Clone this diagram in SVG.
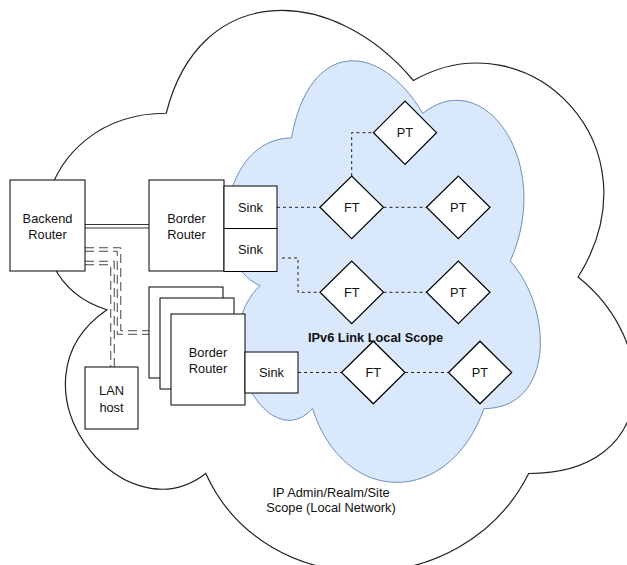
<svg xmlns="http://www.w3.org/2000/svg" width="627" height="565" viewBox="0 0 627 565">
<style>
.box{fill:#fff;stroke:#000;stroke-width:1}
.dia{fill:#fff;stroke:#000;stroke-width:1.2}
.t{font-family:"Liberation Sans",Arial,Helvetica,sans-serif;font-size:12.8px;fill:#111;text-anchor:middle}
.tb{font-weight:bold}
.dash{fill:none;stroke:#222;stroke-width:1;stroke-dasharray:3 3}
.link{fill:none;stroke:#333;stroke-width:1}
.dlink{fill:none;stroke:#444;stroke-width:1;stroke-dasharray:9 5}
</style>
<rect width="627" height="565" fill="#fff"/>
<g id="outer-cloud">
<path d="M166.25,113.25 C34.45,113.25 1.5,277 106.94,309.75 C1.5,381.8 120.12,539 205.79,473.5 C265.1,604.5 462.8,604.5 528.7,473.5 C660.5,473.5 660.5,342.5 578.1,277 C660.5,146 528.7,15 413.4,80.5 C331,-17.75 199.2,-17.75 166.25,113.25 Z" fill="#fff" stroke="#222" stroke-width="1.2"/>
<text class="t" x="331" y="496.5">IP Admin/Realm/Site</text>
<text class="t" x="331" y="511.5">Scope (Local Network)</text>
</g>
<g id="inner-cloud">
<path d="M291.5,138 C221.5,138 204,261 260,285.6 C204,339.7 267,457.8 312.5,408.6 C344,507 449,507 484,408.6 C554,408.6 554,310.2 510.25,261 C554,162.6 484,64.2 422.75,113.4 C379,39.6 309,39.6 291.5,138 Z" fill="#dae8fc" stroke="#6c8ebf" stroke-width="1"/>
</g>
<g id="connectors">
<line class="link" x1="85" y1="224.5" x2="149" y2="224.5"/>
<line class="link" x1="85" y1="228" x2="149" y2="228"/>
<polyline class="dlink" points="85,247.75 120.75,247.75 120.75,330.75 149,330.75"/>
<polyline class="dlink" points="85,251.25 117.25,251.25 117.25,334.25 149,334.25"/>
<polyline class="dlink" points="85,261.25 114.25,261.25 114.25,367"/>
<polyline class="dlink" points="85,264.75 110.75,264.75 110.75,367"/>
<line class="dash" x1="277" y1="207.3" x2="320" y2="207.3"/>
<line class="dash" x1="383.5" y1="207.3" x2="426.5" y2="207.3"/>
<polyline class="dash" points="351.7,176 351.7,132.7 373.5,132.7"/>
<polyline class="dash" points="282,258 298,258 298,292.3 320,292.3"/>
<line class="dash" x1="383.5" y1="292.3" x2="426.5" y2="292.3"/>
<line class="dash" x1="298" y1="372.5" x2="341.5" y2="372.5"/>
<line class="dash" x1="405" y1="372.5" x2="448.5" y2="372.5"/>
</g>
<g id="backend-router">
<rect class="box" x="10" y="180" width="75" height="91"/>
<text class="t" x="47.5" y="222.5">Backend</text>
<text class="t" x="47.5" y="238.5">Router</text>
</g>
<g id="border-router-1">
<rect class="box" x="149" y="180" width="75" height="91"/>
<text class="t" x="186.5" y="222.5">Border</text>
<text class="t" x="186.5" y="238.5">Router</text>
</g>
<g id="sink-1">
<rect class="box" x="224" y="186" width="53" height="42.5"/>
<text class="t" x="250.5" y="211.5">Sink</text>
</g>
<g id="sink-2">
<rect class="box" x="224" y="228.5" width="53" height="43"/>
<text class="t" x="250.5" y="254">Sink</text>
</g>
<g id="border-router-stack">
<rect class="box" x="149" y="287" width="74" height="91"/>
<rect class="box" x="160" y="298" width="74" height="91"/>
<rect class="box" x="171" y="314" width="74" height="91"/>
<text class="t" x="208" y="356.5">Border</text>
<text class="t" x="208" y="372.5">Router</text>
</g>
<g id="sink-3">
<rect class="box" x="245" y="352" width="53" height="41"/>
<text class="t" x="271.5" y="377">Sink</text>
</g>
<g id="lan-host">
<rect class="box" x="85" y="367" width="53" height="62"/>
<text class="t" x="111.5" y="394.5">LAN</text>
<text class="t" x="111.5" y="411.5">host</text>
</g>
<g id="pt-top">
<polygon class="dia" points="373.5,132.7 405,101 436.5,132.7 405,164.4"/>
<text class="t" x="405" y="137.3">PT</text>
</g>
<g id="ft-1">
<polygon class="dia" points="320,207.3 351.7,176 383.5,207.3 351.7,238.6"/>
<text class="t" x="351.7" y="211.8">FT</text>
</g>
<g id="pt-1">
<polygon class="dia" points="426.5,207.3 458.3,176 490,207.3 458.3,238.6"/>
<text class="t" x="458.3" y="211.8">PT</text>
</g>
<g id="ft-2">
<polygon class="dia" points="320,292.3 351.7,261 383.5,292.3 351.7,323.6"/>
<text class="t" x="351.7" y="296.8">FT</text>
</g>
<g id="pt-2">
<polygon class="dia" points="426.5,292.3 458.3,261 490,292.3 458.3,323.6"/>
<text class="t" x="458.3" y="296.8">PT</text>
</g>
<g id="ft-3">
<polygon class="dia" points="341.5,372.5 373.3,341.2 405,372.5 373.3,403.8"/>
<text class="t" x="373.3" y="377">FT</text>
</g>
<g id="pt-3">
<polygon class="dia" points="448.5,372.5 480,341.2 511.7,372.5 480,403.8"/>
<text class="t" x="480" y="377">PT</text>
</g>
<g id="scope-label">
<text class="t tb" x="375.5" y="341.8">IPv6 Link Local Scope</text>
</g>
</svg>
